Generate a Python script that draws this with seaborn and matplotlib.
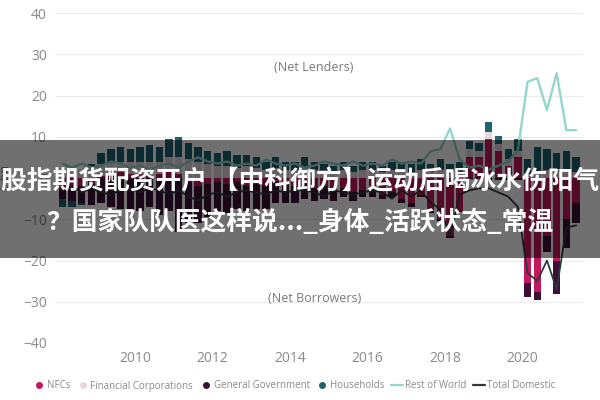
import numpy as np
import pandas as pd
import matplotlib
matplotlib.use("Agg")
import matplotlib.pyplot as plt
from matplotlib.lines import Line2D
from matplotlib.patches import Rectangle
import seaborn as sns

# ---------------- data ----------------
quarters = [f"{y}Q{q}" for y in range(2008, 2022) for q in range(1, 5)][:54]

nfcs = [-3.0, -2.5, -2.0, -1.5,
        0.5, 1.0, 1.5, 1.0,
        1.0, 0.5, 1.0, 1.5,
        1.0, -1.0, -2.0, -1.5,
        -1.0, -1.5, -1.0, -2.0,
        -1.5, -2.0, -1.0, -1.5,
        -2.0, -1.5, -2.5, -2.0,
        -3.0, -2.5, -3.5, -3.0,
        -3.0, -4.0, -3.5, -5.0,
        -6.0, -4.0, -8.0, -10.0,
        -14.0, -8.0, 5.0, 5.0,
        9.5, 6.5, 3.0, 5.0,
        -25.5, -27.6, -14.0, -20.0,
        -10.0, -6.0]

fin_corps = [1.5, 2.0, 2.0, 2.5,
             3.0, 3.0, 2.5, 3.0,
             3.0, 3.5, 3.0, 3.5,
             4.0, 4.5, 4.0, 3.5,
             3.0, 3.0, 2.5, 3.0,
             2.5, 2.0, 2.5, 2.0,
             2.0, 2.5, 2.0, 2.0,
             1.5, 2.0, 1.5, 2.0,
             2.0, 1.5, 2.0, 1.5,
             1.5, 2.0, 1.5, 2.0,
             1.5, 1.5, 2.0, 1.5,
             1.6, 1.7, 1.5, 1.5,
             1.0, 1.5, 2.0, 1.5,
             2.0, 1.5]

gen_gov = [-2.0, -3.0, -4.0, -5.0,
           -6.0, -7.0, -7.5, -8.0,
           -8.0, -7.0, -9.0, -8.0,
           -13.0, -10.0, -9.0, -8.0,
           -7.0, -7.0, -6.5, -6.0,
           -6.0, -5.5, -5.0, -4.5,
           -4.0, -3.5, -3.0, -3.0,
           -2.5, -2.0, -2.0, -1.5,
           -1.5, -1.0, -1.0, -1.0,
           -1.0, -0.5, -0.5, -0.5,
           -0.5, -0.3, -0.2, -0.2,
           -0.5, -0.5, -0.5, -0.5,
           -3.3, -2.0, -4.0, -8.0,
           -7.0, -5.0]

households = [-2.0, -1.5, -0.5, 1.0,
              2.5, 3.0, 3.5, 3.0,
              3.5, 4.0, 3.5, 4.5,
              5.0, 4.0, 3.5, 3.0,
              3.0, 3.5, 3.0, 2.5,
              2.5, 2.0, 2.5, 2.0,
              2.0, 2.5, 2.0, 1.5,
              1.5, 2.0, 1.5, 2.0,
              2.0, 1.5, 2.0, 2.5,
              2.0, 2.5, 2.0, 2.5,
              2.0, 2.5, 2.0, 2.0,
              2.5, 2.0, 2.5, 3.0,
              3.5, 6.0, 5.0, 4.5,
              4.5, 3.5]

rest_of_world = [3.5, 2.5, 3.5, 2.5,
                 3.0, 4.0, 3.5, 2.5,
                 3.0, 2.0, 3.0, 3.5,
                 2.5, 4.0, 5.0, 4.0,
                 3.5, 4.0, 3.0, 3.5,
                 3.0, 4.5, 3.5, 3.0,
                 3.5, 2.5, 3.0, 4.0,
                 3.5, 3.0, 4.0, 3.0,
                 3.5, 3.0, 4.5, 3.5,
                 4.0, 3.5, 6.5, 7.0,
                 12.0, 4.5, 2.5, 3.0,
                 2.0, 3.0, 4.0, 6.8,
                 23.3, 24.2, 16.5, 25.4,
                 11.6, 11.6]

total_domestic = [-3.0, -2.0, -3.5, -2.5,
                  -3.5, -4.0, -3.0, -2.5,
                  -3.5, -2.5, -3.0, -4.0,
                  -3.0, -4.5, -5.5, -4.0,
                  -3.5, -4.5, -3.5, -3.0,
                  -3.5, -4.0, -3.0, -3.5,
                  -3.0, -3.0, -3.5, -4.5,
                  -3.0, -3.5, -4.0, -3.5,
                  -3.0, -3.5, -5.0, -3.0,
                  -4.5, -3.0, -6.0, -7.5,
                  -14.0, -4.0, -3.0, -2.5,
                  -2.5, -3.5, -4.5, -7.0,
                  -23.0, -25.0, -20.0, -27.0,
                  -12.0, -11.5]

sector_names = ["NFCs", "Financial Corporations", "General Government", "Households"]
sector_colors = ["#c4175c", "#e7d6dd", "#3b1036", "#1d6370"]
row_color = "#93d6cc"
td_color = "#2e3b3d"

year_ticks = [2010, 2012, 2014, 2016, 2018, 2020]
y_ticks = [-40, -30, -20, -10, 0, 10, 20, 30, 40]

title_line1 = "股指期货配资开户 【中科御方】运动后喝冰水伤阳气"
title_line2 = "？国家队队医这样说..._身体_活跃状态_常温"

# ---------------- plotting ----------------
sns.set_theme(style="white")
plt.rcParams["font.family"] = ["Open Sans", "DejaVu Sans"]

df = pd.DataFrame({"quarter": quarters})
df["x"] = [int(q[:4]) + (int(q[-1]) - 1 + 0.5) / 4 for q in quarters]

fig = plt.figure(figsize=(6, 4), dpi=100)
ax = fig.add_axes([0.092, 0.1425, 0.88, 0.825])

pos_bottom = np.zeros(len(quarters))
neg_bottom = np.zeros(len(quarters))
for name, vals, col in zip(sector_names, [nfcs, fin_corps, gen_gov, households], sector_colors):
    v = np.array(vals, dtype=float)
    bottoms = np.where(v >= 0, pos_bottom, neg_bottom)
    ax.bar(df["x"], v, bottom=bottoms, width=0.19, color=col, linewidth=0, zorder=2)
    pos_bottom = pos_bottom + np.where(v >= 0, v, 0)
    neg_bottom = neg_bottom + np.where(v < 0, v, 0)

sns.lineplot(x=df["x"], y=rest_of_world, ax=ax, color=row_color, linewidth=1.7, zorder=3)
sns.lineplot(x=df["x"], y=total_domestic, ax=ax, color=td_color, linewidth=1.3, zorder=4)

ax.set_xlim(2007.94, 2021.56)
ax.set_ylim(-40, 40)
ax.set_yticks(y_ticks)
ax.set_xticks(year_ticks)
ax.set_xticklabels([str(y) for y in year_ticks])
ax.grid(axis="y", color="#ececec", linewidth=0.8, zorder=0)
ax.grid(axis="x", visible=False)
for s in ax.spines.values():
    s.set_visible(False)
ax.tick_params(axis="both", length=0, labelsize=10, colors="#8a8a8a")
ax.tick_params(axis="x", pad=6)
ax.tick_params(axis="y", pad=6)
ax.set_xlabel("")
ax.set_ylabel("€ bn", color="#8a8a8a", fontsize=9, labelpad=8)

ax.text(2014.62, 26.9, "(Net Lenders)", ha="center", va="center", fontsize=9, color="#7a7a7a")
ax.text(2014.62, -29.1, "(Net Borrowers)", ha="center", va="center", fontsize=9, color="#7a7a7a")

handles = [Line2D([], [], marker="o", linestyle="none", markersize=4, color=c) for c in sector_colors]
handles += [Line2D([], [], color=row_color, linewidth=1.6), Line2D([], [], color=td_color, linewidth=1.6)]
labels = sector_names + ["Rest of World", "Total Domestic"]
fig.legend(handles, labels, loc="center", bbox_to_anchor=(0.49, 0.035), ncol=6, frameon=False,
           fontsize=7, labelcolor="#8a8a8a", handlelength=1.2, handletextpad=0.2, columnspacing=0.7)

# overlay banner
fig.patches.append(Rectangle((0, 0.355), 1, 0.295, transform=fig.transFigure,
                             facecolor="black", alpha=0.56, edgecolor="none", zorder=10))
fig.text(0.5, 0.545, title_line1, ha="center", va="center", color="white", fontsize=18.5,
         fontweight="bold", family=["Noto Sans CJK SC", "DejaVu Sans"], zorder=11)
fig.text(0.5, 0.445, title_line2, ha="center", va="center", color="white", fontsize=18.5,
         fontweight="bold", family=["Noto Sans CJK SC", "DejaVu Sans"], zorder=11)

fig.savefig("out.png", dpi=100)
